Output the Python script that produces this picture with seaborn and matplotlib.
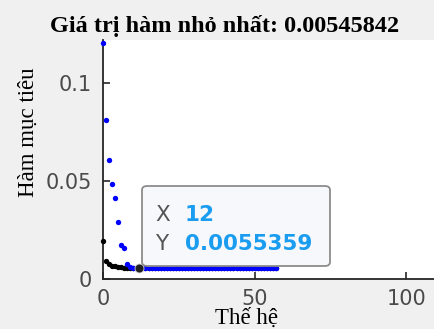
import matplotlib
matplotlib.use("Agg")
import matplotlib.pyplot as plt
import seaborn as sns
import pandas as pd
from matplotlib.patches import FancyBboxPatch

# ---- data ----
generations = list(range(0, 58))
best_fitness = [0.0194, 0.0092, 0.0076, 0.0069, 0.0064, 0.0061, 0.0059, 0.0058,
                0.0057, 0.0057, 0.0056, 0.0056, 0.0055359, 0.00553, 0.00552,
                0.00552, 0.00551, 0.00551, 0.0055, 0.0055, 0.0055, 0.0055,
                0.00549, 0.00549, 0.00549, 0.00549, 0.00548, 0.00548, 0.00548,
                0.00548, 0.00548, 0.00547, 0.00547, 0.00547, 0.00547, 0.00547,
                0.00547, 0.00547, 0.00546, 0.00546, 0.00546, 0.00546, 0.00546,
                0.00546, 0.00546, 0.00546, 0.00546, 0.00546, 0.00546, 0.00546,
                0.00546, 0.00546, 0.00546, 0.00546, 0.00546, 0.00546, 0.00546,
                0.00545842]
mean_fitness = [0.1205, 0.0815, 0.0607, 0.0485, 0.0413, 0.0291, 0.0173, 0.0158,
                0.0077, 0.0060, 0.0058, 0.0057, 0.0056, 0.0056, 0.0056, 0.0056,
                0.0056, 0.0056, 0.0056, 0.0056, 0.0056, 0.0056, 0.0056, 0.0056,
                0.0056, 0.0056, 0.0056, 0.0056, 0.0056, 0.0056, 0.0056, 0.0056,
                0.0056, 0.0056, 0.0056, 0.0056, 0.0056, 0.0056, 0.0056, 0.0056,
                0.0056, 0.0056, 0.0056, 0.0056, 0.0056, 0.0056, 0.0056, 0.0056,
                0.0056, 0.0056, 0.0056, 0.0056, 0.0056, 0.0056, 0.0056, 0.0056,
                0.0056, 0.0056]
x_ticks = [0, 50, 100]
x_tick_labels = ["0", "50", "100"]
y_ticks = [0, 0.05, 0.1]
y_tick_labels = ["0", "0.05", "0.1"]
tip_x = 12
tip_y = 0.0055359
title_text = "Giá trị hàm nhỏ nhất: 0.00545842"
xlabel_text = "Thế hệ"
ylabel_text = "Hàm mục tiêu"

df = pd.DataFrame({"gen": generations, "best": best_fitness, "mean": mean_fitness})

sns.set_style("ticks")
plt.rcParams["font.family"] = ["DejaVu Sans"]

W, H = 435, 329
fig = plt.figure(figsize=(W / 100, H / 100), dpi=100, facecolor="#f0f0f0")
ax = fig.add_axes([103 / W, 50 / H, 332 / W, 239 / H])
ax.set_facecolor("white")

sns.scatterplot(data=df, x="gen", y="best", ax=ax, color="black", s=15,
                linewidth=0, zorder=3, clip_on=False)
sns.scatterplot(data=df, x="gen", y="mean", ax=ax, color="#0000ff", s=15,
                linewidth=0, zorder=4, clip_on=False)
# datatip marker
sns.scatterplot(x=[tip_x], y=[tip_y], ax=ax, color="#202020", s=42,
                edgecolor="#d8d8d8", linewidth=0.6, zorder=6, clip_on=False)

ax.set_xlim(0, 109.4)
ax.set_ylim(0, 0.1222)
ax.set_xticks(x_ticks)
ax.set_xticklabels(x_tick_labels)
ax.set_yticks(y_ticks)
ax.set_yticklabels(y_tick_labels)
ax.tick_params(direction="in", length=5, width=1.2, color="#262626",
               labelcolor="#4a4a4a", labelsize=15)
ax.tick_params(axis="x", pad=7)
ax.tick_params(axis="y", pad=8)
for side in ["top", "right"]:
    ax.spines[side].set_visible(False)
for side in ["left", "bottom"]:
    ax.spines[side].set_color("#262626")
    ax.spines[side].set_linewidth(1.3)

ax.set_xlabel(xlabel_text, family=["Liberation Serif"], fontsize=16.5, color="black")
ax.set_ylabel(ylabel_text, family=["Liberation Serif"], fontsize=16.5, color="black")
ax.xaxis.set_label_coords((246.5 - 103) / 332, (279 - 318) / 239)
ax.yaxis.set_label_coords((28 - 103) / 332, (279 - 132.5) / 239)
ax.xaxis.label.set_va("center")
ax.yaxis.label.set_va("center")

fig.text(225 / W, 1 - 26 / H, title_text, family=["Liberation Serif"],
         fontsize=17.5, fontweight="bold", ha="center", va="center", color="black")

# datatip box
box = FancyBboxPatch((142 / W, 1 - 266 / H), (330 - 142) / W, (266 - 186) / H,
                     boxstyle="round,pad=0,rounding_size=0.012",
                     transform=fig.transFigure, facecolor="#f7f8fb",
                     edgecolor="#8c8c8c", linewidth=1.3, zorder=10)
fig.patches.append(box)
fig.text(155 / W, 1 - 215 / H, "X", fontsize=15.5, color="#555555",
         ha="left", va="center", zorder=11)
fig.text(185 / W, 1 - 215 / H, f"{tip_x}", fontsize=15.5, color="#1a9cf0",
         fontweight="bold", ha="left", va="center", zorder=11)
fig.text(155 / W, 1 - 244.5 / H, "Y", fontsize=15.5, color="#555555",
         ha="left", va="center", zorder=11)
fig.text(185 / W, 1 - 244.5 / H, f"{tip_y}", fontsize=15.5, color="#1a9cf0",
         fontweight="bold", ha="left", va="center", zorder=11)

fig.savefig("out.png", dpi=100, facecolor=fig.get_facecolor())
